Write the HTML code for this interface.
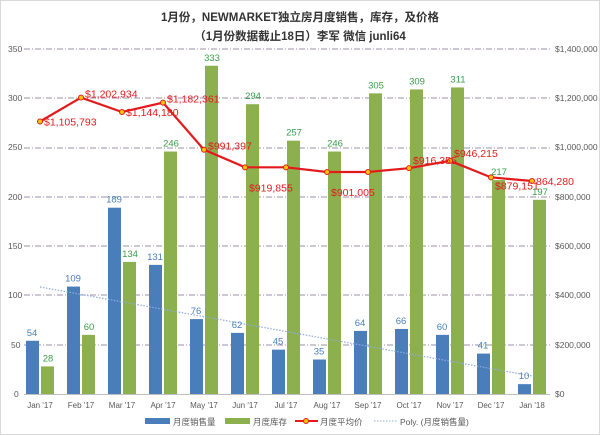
<!DOCTYPE html>
<html><head><meta charset="utf-8"><style>
body{margin:0;background:#fff}
svg{display:block;font-family:"Liberation Sans","Noto Sans CJK SC",sans-serif}
</style></head><body>
<svg width="600" height="435" viewBox="0 0 600 435">
<rect x="0.5" y="0.5" width="599" height="434" fill="#fff" stroke="#d9d9d9"/>
<text x="300" y="21" text-anchor="middle" font-size="11.5" font-weight="bold" fill="#333">1月份，NEWMARKET独立房月度销售，库存，及价格</text>
<text x="300" y="40" text-anchor="middle" font-size="11.5" font-weight="bold" fill="#333">（1月份数据截止18日）李军 微信 junli64</text>
<g font-size="8.5" fill="#595959">
<text x="8" y="52">350</text><text x="8" y="101">300</text><text x="8" y="150">250</text><text x="8" y="200">200</text><text x="8" y="249">150</text><text x="8" y="298">100</text><text x="11" y="348">50</text><text x="14" y="397">0</text>
<text x="555" y="52">$1,400,000</text><text x="555" y="101">$1,200,000</text><text x="555" y="150">$1,000,000</text><text x="555" y="200">$800,000</text><text x="555" y="249">$600,000</text><text x="555" y="298">$400,000</text><text x="555" y="348">$200,000</text><text x="555" y="397">$0</text>
</g>
<g stroke="#7f6f8f" stroke-width="0.8" stroke-dasharray="6,2,1,2">
<line x1="24" y1="49" x2="550" y2="49"/><line x1="24" y1="98" x2="550" y2="98"/><line x1="24" y1="148" x2="550" y2="148"/><line x1="24" y1="197" x2="550" y2="197"/><line x1="24" y1="246" x2="550" y2="246"/><line x1="24" y1="295" x2="550" y2="295"/><line x1="24" y1="345" x2="550" y2="345"/>
</g>
<line x1="24" y1="394.5" x2="550" y2="394.5" stroke="#bfbfbf"/>
<g id="bars"></g>
<polyline id="trend" fill="none" stroke="#8eaadb" stroke-width="1.2" stroke-dasharray="1.5,1.5" points="40,287 532,376"/>
<polyline id="price" fill="none" stroke="#e31a1c" stroke-width="2.2"/>
<g id="dots"></g>
<g id="lbl" font-size="9.5"></g>
<g font-size="8" fill="#595959" text-anchor="middle" id="xl"></g>
<g font-size="8.5" fill="#595959">
<rect x="145" y="418" width="25" height="6" fill="#4a7ebb"/><text x="173" y="425">月度销售量</text>
<rect x="225" y="418" width="25" height="6" fill="#8db04f"/><text x="253" y="425">月度库存</text>
<line x1="295" y1="421" x2="318" y2="421" stroke="#e31a1c" stroke-width="2"/><circle cx="306" cy="421" r="2.5" fill="#f5c400" stroke="#e31a1c"/><text x="320" y="425">月度平均价</text>
<line x1="374" y1="421" x2="397" y2="421" stroke="#8eaadb" stroke-dasharray="1.5,1.5"/><text x="400" y="425">Poly. (月度销售量)</text>
</g>
<script>
var m=["Jan '17","Feb '17","Mar '17","Apr '17","May '17","Jun '17","Jul '17","Aug '17","Sep '17","Oct '17","Nov '17","Dec '17","Jan '18"];
var s=[54,109,189,131,76,62,45,35,64,66,60,41,10];
var inv=[28,60,134,246,333,294,257,246,305,309,311,217,197];
var pr=[1105793,1202934,1144180,1182361,991397,919855,919855,901005,901005,916355,946215,879151,864280];
var pl=["$1,105,793","$1,202,934","$1,144,180","$1,182,361","$991,397","$919,855","","$901,005","","$916,355","$946,215","$879,151","864,280"];
var ns="http://www.w3.org/2000/svg";
function el(g,t,a,txt){var e=document.createElementNS(ns,t);for(var k in a)e.setAttribute(k,a[k]);if(txt)e.textContent=txt;document.getElementById(g).appendChild(e);}
function Y(v){return 394-v*345/350;}
function PY(v){return 394-v*345/1400000;}
var pts=[];
for(var i=0;i<13;i++){var c=40+i*41;
el("bars","rect",{x:c-14,y:Y(s[i]),width:13,height:394-Y(s[i]),fill:"#4a7ebb"});
el("bars","rect",{x:c+1,y:Y(inv[i]),width:13,height:394-Y(inv[i]),fill:"#8db04f"});
el("lbl","text",{x:c-8,y:Y(s[i])-5,"text-anchor":"middle",fill:"#4a7ebb"},String(s[i]));
el("lbl","text",{x:c+8,y:Y(inv[i])-5,"text-anchor":"middle",fill:"#3a9d4a"},String(inv[i]));
el("xl","text",{x:c,y:408},m[i]);
var py=PY(pr[i]);pts.push(c+","+py);
el("dots","circle",{cx:c,cy:py,r:2.5,fill:"#f5c400",stroke:"#e31a1c","stroke-width":1});
if(pl[i]){var dy=[-0,-4,0,-4,-4,20,0,20,0,-8,-8,8,0][i];
el("lbl","text",{x:c+4,y:py+4+dy,fill:"#e31a1c","font-size":"10.5"},pl[i]);}
}
document.getElementById("price").setAttribute("points",pts.join(" "));
</script>
</svg>
</body></html>
